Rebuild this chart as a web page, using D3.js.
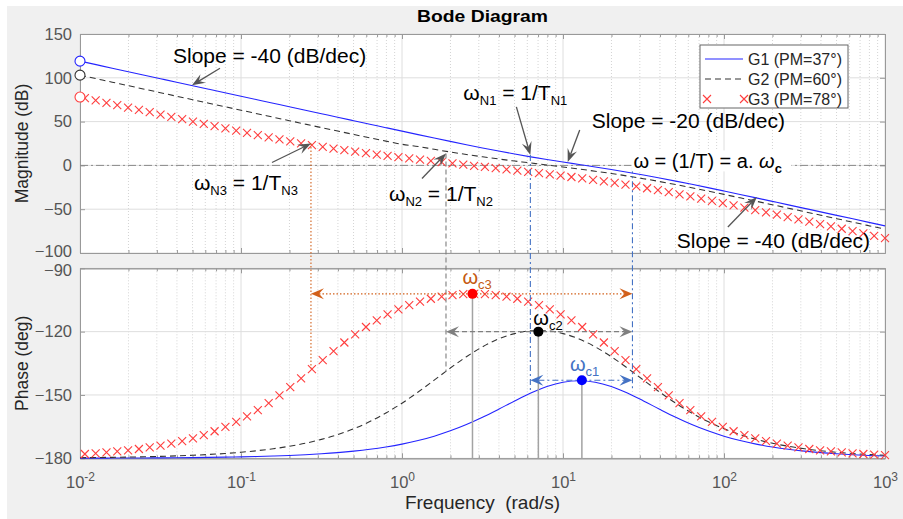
<!DOCTYPE html>
<html>
<head>
<meta charset="utf-8">
<script src="https://cdn.jsdelivr.net/npm/d3@7"></script>
<style>
  body { margin: 0; background: #fff; }
  text { font-family: "Liberation Sans", Arial, sans-serif; }
</style>
</head>
<body>
<svg id="chart" width="903" height="519"></svg>
<script>
// frequency grid of the G1 / G2 curves (rad/s)
const freqLine = [0.01, 0.01259, 0.01585, 0.01995, 0.02512, 0.03162, 0.03981, 0.05012, 0.0631, 0.07943,
  0.1, 0.1259, 0.1585, 0.1995, 0.2512, 0.3162, 0.3981, 0.5012, 0.631, 0.7943,
  1, 1.259, 1.585, 1.995, 2.512, 3.162, 3.981, 5.012, 6.31, 7.943,
  10, 12.59, 15.85, 19.95, 25.12, 31.62, 39.81, 50.12, 63.1, 79.43,
  100, 125.9, 158.5, 199.5, 251.2, 316.2, 398.1, 501.2, 631, 794.3, 1000];

const magG1 = [119, 115, 111, 107, 103, 99, 95, 91, 87, 83,
  79, 75, 71, 67, 63.01, 59.01, 55.02, 51.03, 47.04, 43.06,
  39.1, 35.16, 31.25, 27.39, 23.6, 19.91, 16.35, 12.96, 9.74, 6.71,
  3.82, 1.0, -1.82, -4.71, -7.74, -10.96, -14.35, -17.91, -21.6, -25.39,
  -29.25, -33.16, -37.1, -41.06, -45.04, -49.03, -53.02, -57.01, -61.0, -65.0, -69.0];
const phaseG1 = [-179.93, -179.92, -179.89, -179.86, -179.83, -179.79, -179.73, -179.66, -179.57, -179.46,
  -179.32, -179.15, -178.92, -178.65, -178.29, -177.85, -177.3, -176.6, -175.73, -174.63,
  -173.27, -171.59, -169.51, -166.99, -164.01, -160.56, -156.76, -152.82, -149.1, -146.01,
  -143.95, -143.24, -143.95, -146.01, -149.1, -152.82, -156.76, -160.56, -164.01, -166.99,
  -169.51, -171.59, -173.27, -174.63, -175.73, -176.6, -177.3, -177.85, -178.29, -178.65, -178.92];

const magG2 = [103, 99, 95, 91, 87, 83, 79, 75, 71, 67.01,
  63.01, 59.02, 55.03, 51.05, 47.08, 43.12, 39.19, 35.3, 31.47, 27.73,
  24.09, 21.63, 18.35, 15.3, 12.46, 9.83, 7.36, 5.01, 2.73, 0.47,
  -1.81, -4.16, -6.63, -9.26, -12.1, -15.15, -18.43, -21.89, -25.52, -29.27,
  -33.1, -36.99, -40.92, -44.88, -48.85, -52.83, -56.82, -60.81, -64.81, -68.81, -72.8];
const phaseG2 = [-179.71, -179.64, -179.54, -179.43, -179.28, -179.1, -178.86, -178.57, -178.19, -177.73,
  -177.14, -176.4, -175.48, -174.31, -172.86, -171.03, -168.78, -166, -162.62, -158.58,
  -153.89, -148.62, -142.97, -137.26, -131.88, -127.19, -123.47, -120.93, -119.63, -119.63,
  -120.93, -123.47, -127.19, -131.88, -137.26, -142.97, -148.62, -153.89, -158.58, -162.62,
  -166, -168.78, -171.03, -172.86, -174.31, -175.48, -176.4, -177.14, -177.73, -178.19, -178.57];

// G3 is drawn with markers only
const freqG3 = [0.01072, 0.01251, 0.0146, 0.01704, 0.01989, 0.02322, 0.0271, 0.03163, 0.03692, 0.0431,
  0.0503, 0.05872, 0.06854, 0.08, 0.09337, 0.109, 0.1272, 0.1485, 0.1733, 0.2023,
  0.2362, 0.2757, 0.3218, 0.3756, 0.4384, 0.5117, 0.5973, 0.6972, 0.8137, 0.9499,
  1.109, 1.294, 1.511, 1.763, 2.058, 2.402, 2.804, 3.273, 3.82, 4.459,
  5.205, 6.076, 7.092, 8.278, 9.662, 11.28, 13.16, 15.37, 17.94, 20.94,
  24.44, 28.52, 33.29, 38.86, 45.36, 52.95, 61.8, 72.14, 84.2, 98.29,
  114.7, 133.9, 156.3, 182.4, 213, 248.6, 290.1, 338.7, 395.3, 461.4,
  538.6, 628.7, 733.8, 856.5, 1000];
const magG3 = [76.81, 74.12, 71.44, 68.75, 66.07, 63.39, 60.72, 58.04, 55.37, 52.71,
  50.06, 47.41, 44.79, 42.18, 39.6, 37.05, 34.54, 32.09, 29.71, 27.41,
  25.19, 23.07, 21.06, 19.14, 17.33, 15.61, 13.96, 12.38, 10.86, 9.37,
  7.92, 6.5, 5.09, 3.7, 2.31, 0.93, -0.43, -1.81, -3.19, -4.57,
  -5.96, -7.37, -8.79, -10.24, -11.73, -13.25, -14.84, -16.48, -18.2, -20.02,
  -21.93, -23.94, -26.07, -28.28, -30.58, -32.97, -35.41, -37.92, -40.47, -43.05,
  -45.66, -48.29, -50.93, -53.59, -56.24, -58.92, -61.59, -64.26, -66.95, -69.63,
  -72.31, -74.99, -77.68, -80.36, -83.05];
const phaseG3 = [-177.96, -177.62, -177.22, -176.76, -176.22, -175.59, -174.86, -174.01, -173.01, -171.86,
  -170.52, -168.98, -167.19, -165.14, -162.79, -160.14, -157.15, -153.82, -150.18, -146.24,
  -142.1, -137.81, -133.49, -129.23, -125.15, -121.31, -117.8, -114.64, -111.87, -109.47,
  -107.44, -105.77, -104.43, -103.41, -102.69, -102.27, -102.12, -102.27, -102.69, -103.41,
  -104.43, -105.77, -107.44, -109.47, -111.87, -114.64, -117.8, -121.31, -125.15, -129.23,
  -133.49, -137.81, -142.1, -146.24, -150.18, -153.82, -157.15, -160.14, -162.79, -165.14,
  -167.19, -168.98, -170.52, -171.86, -173.01, -174.01, -174.86, -175.59, -176.22, -176.76,
  -177.22, -177.62, -177.96, -178.25, -178.51];

const seriesNames = ['G1 (PM=37°)', 'G2 (PM=60°)', 'G3 (PM=78°)'];
const magTicks = [-100, -50, 0, 50, 100, 150];
const phaseTicks = [-180, -150, -120, -90];
const freqTicks = [0.01, 0.1, 1, 10, 100, 1000];

// annotation values, index 0 = G1, 1 = G2, 2 = G3
const cornerFreq = [6.27, 1.876, 0.272];      // wN = 1/TN
const cornerTopDb = [12, 13.6, 25];
const cornerLowPhase = [-148.4, -139, -137.3];
const crossFreq = [13.1, 7.03, 2.74];         // wc
const peakPhase = [-143, -120, -102.1];
const poleFreq = 27;                          // w = 1/T

const svg = d3.select('#chart');
const left = 80, right = 885;
const magTop = 34, magBot = 253, phTop = 268.3, phBot = 458.3;

const x = d3.scaleLog().domain([0.01, 1000]).range([left, right]);
const yMag = d3.scaleLinear().domain([-100, 150]).range([magBot, magTop]);
const yPh = d3.scaleLinear().domain([-180, -90]).range([phBot, phTop]);

const blue = '#2424ff', dark = '#333', red = '#ff3d3d';
const annBlue = '#4472c4', annGray = '#7f7f7f', annOrange = '#d2601a';

svg.append('rect').attr('x', 7).attr('y', 6).attr('width', 896).attr('height', 513).attr('fill', '#f0f0f0');

const minorFreq = x.ticks().filter(d => freqTicks.indexOf(d) < 0);

function panel(y, ticks, top, bot, labelX) {
  const g = svg.append('g');
  g.append('rect').attr('x', left).attr('y', top).attr('width', right - left).attr('height', bot - top).attr('fill', '#fff');
  g.selectAll('.minor').data(minorFreq).enter().append('line')
    .attr('x1', d => x(d)).attr('x2', d => x(d)).attr('y1', top).attr('y2', bot)
    .attr('stroke', '#d4d4d4').attr('stroke-dasharray', '1,2');
  g.selectAll('.vmajor').data(freqTicks).enter().append('line')
    .attr('x1', d => x(d)).attr('x2', d => x(d)).attr('y1', top).attr('y2', bot)
    .attr('stroke', '#dedede');
  g.selectAll('.hmajor').data(ticks).enter().append('line')
    .attr('x1', left).attr('x2', right).attr('y1', d => y(d)).attr('y2', d => y(d))
    .attr('stroke', '#dedede');

  const axes = svg.append('g').attr('class', 'axes');
  const ly = axes.append('g').attr('transform', `translate(${left},0)`)
    .call(d3.axisLeft(y).tickValues(ticks).tickSize(-5).tickSizeOuter(0).tickPadding(8));
  // keep the -100 and -90 labels apart where the two panels meet
  ly.selectAll('.tick text').attr('y', d => d === -100 ? -2 : (d === -90 ? 2 : 0));
  axes.append('g').attr('transform', `translate(${right},0)`)
    .call(d3.axisRight(y).tickValues(ticks).tickSize(-5).tickSizeOuter(0).tickFormat(''));
  axes.append('g').attr('transform', `translate(0,${top})`)
    .call(d3.axisTop(x).tickValues(freqTicks).tickSize(-5).tickSizeOuter(0).tickFormat(''));
  axes.append('g').attr('transform', `translate(0,${top})`)
    .call(d3.axisTop(x).tickValues(minorFreq).tickSize(-3).tickSizeOuter(0).tickFormat(''));
  axes.append('g').attr('transform', `translate(0,${bot})`)
    .call(d3.axisBottom(x).tickValues(minorFreq).tickSize(-3).tickSizeOuter(0).tickFormat(''));
  const bx = axes.append('g').attr('transform', `translate(0,${bot})`)
    .call(d3.axisBottom(x).tickValues(freqTicks).tickSize(-5).tickSizeOuter(0).tickPadding(18)
      .tickFormat(labelX ? (d => d) : ''));
  if (labelX) {
    bx.selectAll('.tick text').each(function (d) {
      const t = d3.select(this).text(null);
      t.append('tspan').text('10');
      t.append('tspan').attr('dy', -7).attr('font-size', 12).text(Math.round(Math.log10(d)));
    });
  }
  axes.selectAll('.domain').attr('stroke', '#999');
  axes.selectAll('.tick line').attr('stroke', '#999');
  axes.selectAll('.tick text').attr('fill', '#555').attr('font-size', 16.5)
    .style('font-family', '"Liberation Sans", Arial, sans-serif');
  return g;
}

panel(yMag, magTicks, magTop, magBot, false);
panel(yPh, phaseTicks, phTop, phBot, true);

// 0 dB reference line
svg.append('line').attr('x1', left).attr('x2', right).attr('y1', yMag(0)).attr('y2', yMag(0))
  .attr('stroke', '#8a8a8a').attr('stroke-dasharray', '8,3,2,3');

const lineMag = d3.line().x((d, i) => x(freqLine[i])).y(d => yMag(d)).curve(d3.curveMonotoneX);
const linePh = d3.line().x((d, i) => x(freqLine[i])).y(d => yPh(d)).curve(d3.curveMonotoneX);

const curves = svg.append('g').attr('fill', 'none').attr('stroke-width', 1.1);
curves.append('path').attr('d', lineMag(magG1)).attr('stroke', blue);
curves.append('path').attr('d', linePh(phaseG1)).attr('stroke', blue);
curves.append('path').attr('d', lineMag(magG2)).attr('stroke', dark).attr('stroke-dasharray', '6,4');
curves.append('path').attr('d', linePh(phaseG2)).attr('stroke', dark).attr('stroke-dasharray', '6,4');

const cross = 'M-4,-4L4,4M4,-4L-4,4';
const marks = svg.append('g').attr('stroke', red).attr('stroke-width', 1.1).attr('fill', 'none');
marks.selectAll('.m1').data(magG3).enter().append('path').attr('d', cross)
  .attr('transform', (d, i) => `translate(${x(freqG3[i])},${yMag(d)})`);
marks.selectAll('.m2').data(phaseG3).enter().append('path').attr('d', cross)
  .attr('transform', (d, i) => `translate(${x(freqG3[i])},${yPh(d)})`);

// start-point circles
const startDb = [magG1[0], magG2[0], 78];
const startCol = [blue, dark, red];
svg.selectAll('.start').data(startDb).enter().append('circle')
  .attr('cx', x(0.01)).attr('cy', d => yMag(d)).attr('r', 5)
  .attr('fill', '#fff').attr('stroke', (d, i) => startCol[i]).attr('stroke-width', 1.1);

// arrow head with a notched back, tip at (x2, y2)
function head(g, x1, y1, x2, y2, color, L, w) {
  const a = Math.atan2(y2 - y1, x2 - x1) * 180 / Math.PI;
  g.append('path').attr('d', `M0,0L${-L},${-w / 2}L${-L * 0.62},0L${-L},${w / 2}Z`)
    .attr('transform', `translate(${x2},${y2}) rotate(${a})`).attr('fill', color);
}

function richText(g, px, py, parts, size, color) {
  const t = g.append('text').attr('x', px).attr('y', py).attr('font-size', size).attr('fill', color);
  let shift = 0;
  parts.forEach(p => {
    const s = t.append('tspan').text(p.t);
    const want = p.sub ? Math.round(size * 0.25) : 0;
    if (want !== shift) { s.attr('dy', want - shift); shift = want; }
    if (p.sub) s.attr('font-size', Math.round(size * 0.64));
    if (p.it) s.attr('font-style', 'italic');
    if (p.b) s.attr('font-weight', 'bold');
  });
  return t;
}

const ann = svg.append('g');

// vertical guide lines at the corner frequencies and at 1/T
const guideCol = [annBlue, annGray, annOrange];
const guideDash = ['6,3,2,3', '5,3', '1.5,2'];
cornerFreq.forEach((f, i) => {
  ann.append('line').attr('x1', x(f)).attr('x2', x(f))
    .attr('y1', yMag(cornerTopDb[i])).attr('y2', yPh(cornerLowPhase[i]))
    .attr('stroke', guideCol[i]).attr('stroke-dasharray', guideDash[i]).attr('stroke-width', 1.1);
});
ann.append('line').attr('x1', x(poleFreq)).attr('x2', x(poleFreq))
  .attr('y1', yMag(-2)).attr('y2', yPh(cornerLowPhase[0]))
  .attr('stroke', annBlue).attr('stroke-dasharray', guideDash[0]).attr('stroke-width', 1.1);

// stems from the phase peaks
const dotCol = ['#0000ff', '#000', '#ff0000'];
crossFreq.forEach((f, i) => {
  ann.append('line').attr('x1', x(f)).attr('x2', x(f)).attr('y1', yPh(peakPhase[i])).attr('y2', yPh(-180))
    .attr('stroke', '#a3a3a3').attr('stroke-width', 1.5);
});

// double arrows from wN to 1/T at the phase maximum
cornerFreq.forEach((f, i) => {
  const y = yPh(peakPhase[i]), xa = x(f), xb = x(poleFreq);
  ann.append('line').attr('x1', xa + 8).attr('x2', xb - 8).attr('y1', y).attr('y2', y)
    .attr('stroke', guideCol[i]).attr('stroke-dasharray', guideDash[i]).attr('stroke-width', 1.1);
  head(ann, xb, y, xa, y, guideCol[i], 13, 11);
  head(ann, xa, y, xb, y, guideCol[i], 13, 11);
});

crossFreq.forEach((f, i) => {
  ann.append('circle').attr('cx', x(f)).attr('cy', yPh(peakPhase[i])).attr('r', 5).attr('fill', dotCol[i]);
});

const wcLabel = [
  { dx: -12, dy: -9, col: annBlue, n: 'c1' },
  { dx: -5, dy: -7, col: '#000', n: 'c2' },
  { dx: -10, dy: -10, col: '#c55a11', n: 'c3' }
];
crossFreq.forEach((f, i) => {
  const L = wcLabel[i];
  richText(ann, x(f) + L.dx, yPh(peakPhase[i]) + L.dy, [{ t: 'ω' }, { t: L.n, sub: true }], 20, L.col);
});

// callouts on the magnitude plot: tip in data units, tail and text as pixel offsets
const calloutFreq = [0.0496, cornerFreq[2], cornerFreq[1], cornerFreq[0], 10.7, 160];
const calloutDb = [91.5, 25, 13.6, 12, 3.9, -36.1];
const calloutTail = [[28, -17], [-39, 19], [-24, 25], [-14, -48], [12, -32], [-29, 30]];
const calloutText = [[-19, -22], [-117, 46.5], [-57, 48], [-67, -55], [24, -34], [-80, 51]];
const calloutParts = [
  [{ t: 'Slope = -40 (dB/dec)' }],
  [{ t: 'ω' }, { t: 'N3', sub: true }, { t: ' = 1/T' }, { t: 'N3', sub: true }],
  [{ t: 'ω' }, { t: 'N2', sub: true }, { t: ' = 1/T' }, { t: 'N2', sub: true }],
  [{ t: 'ω' }, { t: 'N1', sub: true }, { t: ' = 1/T' }, { t: 'N1', sub: true }],
  [{ t: 'Slope = -20 (dB/dec)' }],
  [{ t: 'Slope = -40 (dB/dec)' }]
];
calloutFreq.forEach((f, i) => {
  const tx = x(f), ty = yMag(calloutDb[i]);
  const sx = tx + calloutTail[i][0], sy = ty + calloutTail[i][1];
  const len = Math.hypot(tx - sx, ty - sy);
  const ex = tx - (tx - sx) / len * 8, ey = ty - (ty - sy) / len * 8;
  ann.append('line').attr('x1', sx).attr('y1', sy).attr('x2', ex).attr('y2', ey)
    .attr('stroke', '#555').attr('stroke-width', 1.3);
  head(ann, sx, sy, tx, ty, '#555', 13, 10);
  richText(ann, tx + calloutText[i][0], ty + calloutText[i][1], calloutParts[i], 21, '#000');
});

// label of 1/T with white box
const tx0 = x(poleFreq), ty0 = yMag(0);
ann.append('rect').attr('x', tx0 - 1).attr('y', ty0 - 15).attr('width', 160).attr('height', 21).attr('fill', '#fff');
richText(ann, tx0 + 1, ty0 + 3,
  [{ t: 'ω = (1/T) = a. ' }, { t: 'ω', it: true }, { t: 'c', sub: true, b: true }], 20, '#000');

// legend
const leg = svg.append('g').attr('transform', 'translate(700,45)');
leg.append('rect').attr('width', 148).attr('height', 63).attr('fill', '#fff').attr('stroke', '#666');
seriesNames.forEach((name, i) => {
  const y = 14 + i * 20;
  if (i === 0) leg.append('line').attr('x1', 5).attr('x2', 43).attr('y1', y).attr('y2', y).attr('stroke', blue).attr('stroke-width', 1.1);
  if (i === 1) leg.append('line').attr('x1', 5).attr('x2', 43).attr('y1', y).attr('y2', y).attr('stroke', dark).attr('stroke-dasharray', '6,4').attr('stroke-width', 1.1);
  if (i === 2) {
    [7, 44].forEach(cx => leg.append('path').attr('d', cross).attr('transform', `translate(${cx},${y})`)
      .attr('stroke', red).attr('stroke-width', 1.1).attr('fill', 'none'));
  }
  leg.append('text').attr('x', 48).attr('y', y + 6).attr('font-size', 16).attr('fill', '#262626').text(name);
});

// titles
svg.append('text').attr('x', (left + right) / 2).attr('y', 21.5).attr('text-anchor', 'middle')
  .attr('font-size', 17).attr('font-weight', 'bold').attr('textLength', 131).attr('lengthAdjust', 'spacingAndGlyphs')
  .text('Bode Diagram');
svg.append('text').attr('transform', `translate(28,${(magTop + magBot) / 2}) rotate(-90)`).attr('text-anchor', 'middle')
  .attr('font-size', 17.5).attr('fill', '#262626').text('Magnitude (dB)');
svg.append('text').attr('transform', `translate(28,${(phTop + phBot) / 2}) rotate(-90)`).attr('text-anchor', 'middle')
  .attr('font-size', 17.5).attr('fill', '#262626').text('Phase (deg)');
svg.append('text').attr('x', (left + right) / 2).attr('y', 509).attr('text-anchor', 'middle')
  .attr('font-size', 19).attr('fill', '#262626').attr('xml:space', 'preserve').text('Frequency  (rad/s)');
</script>
</body>
</html>
